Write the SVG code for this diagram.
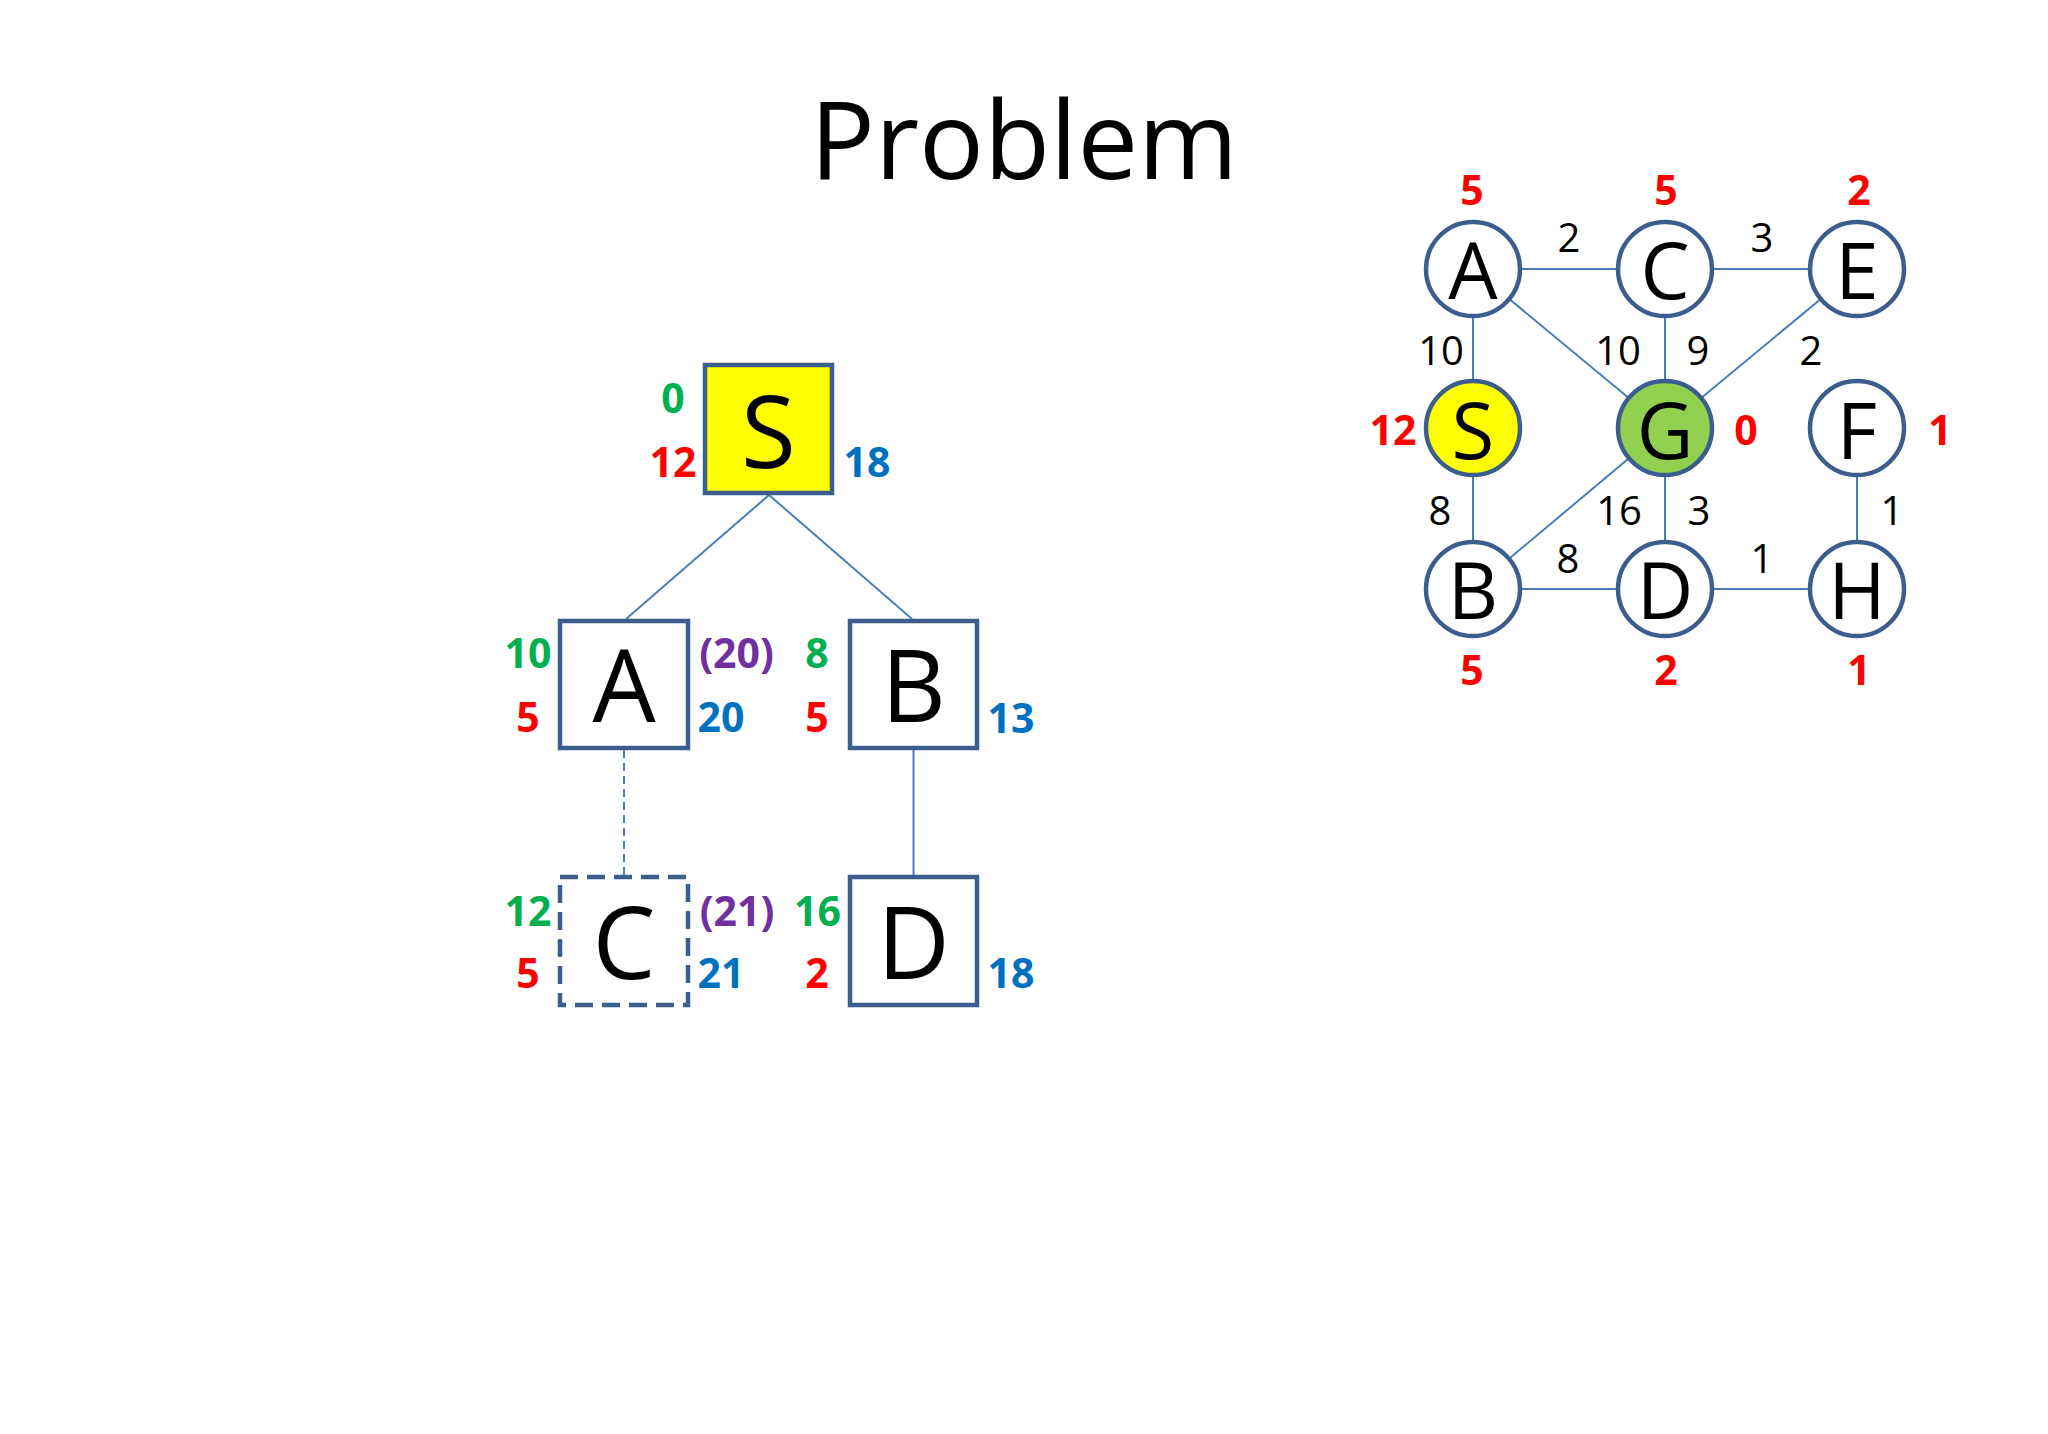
<svg xmlns="http://www.w3.org/2000/svg" width="2048" height="1434" viewBox="0 0 2048 1434">
<style>
.t{font-family:"Open Sans","Liberation Sans",sans-serif;text-anchor:middle}
.title{font-size:108px;fill:#000}
.big{font-size:100px;fill:#000}
.gl{font-size:78px;fill:#000}
.lab{font-size:41px;font-weight:bold}
.w{font-size:40px;fill:#000}
.g{fill:#00B050}.r{fill:#FF0000}.b{fill:#0070C0}.p{fill:#7030A0}
.box{stroke:#3B5E8C;stroke-width:4.5}
.node{stroke:#3B5E8C;stroke-width:4.5;fill:#fff}
.edge{stroke:#4A7EBB;stroke-width:2;fill:none}
</style>
<rect width="2048" height="1434" fill="#fff"/>
<text class="t title" x="1024" y="179">Problem</text>
<g id="tree-connectors">
<line class="edge" x1="769" y1="495" x2="626" y2="619"/>
<line class="edge" x1="769" y1="495" x2="912" y2="619"/>
<line class="edge" x1="624" y1="750" x2="624" y2="877" stroke-dasharray="8 5"/>
<line class="edge" x1="913.5" y1="750" x2="913.5" y2="877"/>
</g>
<g id="tree-S">
<rect class="box" x="705" y="365" width="127" height="128" fill="#FFFF00"/>
<text class="t big" x="768.5" y="468">S</text>
<text class="t lab g" x="673" y="413">0</text>
<text class="t lab r" x="673" y="477">12</text>
<text class="t lab b" x="867" y="477">18</text>
</g>
<g id="tree-A">
<rect class="box" x="560" y="621" width="128" height="127" fill="#fff"/>
<text class="t big" x="624" y="722">A</text>
<text class="t lab g" x="528" y="668">10</text>
<text class="t lab r" x="528" y="732">5</text>
<text class="t lab p" x="736.5" y="668">(20)</text>
<text class="t lab b" x="721" y="732">20</text>
</g>
<g id="tree-B">
<rect class="box" x="850" y="621" width="127" height="127" fill="#fff"/>
<text class="t big" x="913.5" y="722">B</text>
<text class="t lab g" x="817" y="668">8</text>
<text class="t lab r" x="817" y="732">5</text>
<text class="t lab b" x="1011" y="733">13</text>
</g>
<g id="tree-C">
<rect class="box" x="560" y="877" width="128" height="128" fill="#fff" stroke-dasharray="18 9"/>
<text class="t big" x="624" y="979">C</text>
<text class="t lab g" x="528" y="926">12</text>
<text class="t lab r" x="528" y="988">5</text>
<text class="t lab p" x="737" y="926">(21)</text>
<text class="t lab b" x="721" y="988">21</text>
</g>
<g id="tree-D">
<rect class="box" x="850" y="877" width="127" height="128" fill="#fff"/>
<text class="t big" x="913.5" y="979">D</text>
<text class="t lab g" x="817.5" y="926">16</text>
<text class="t lab r" x="817" y="988">2</text>
<text class="t lab b" x="1011" y="988">18</text>
</g>
<g id="graph-connectors">
<line class="edge" x1="1473" y1="269" x2="1665" y2="269"/>
<line class="edge" x1="1665" y1="269" x2="1857" y2="269"/>
<line class="edge" x1="1473" y1="269" x2="1473" y2="428"/>
<line class="edge" x1="1473" y1="428" x2="1473" y2="589"/>
<line class="edge" x1="1665" y1="269" x2="1665" y2="428"/>
<line class="edge" x1="1665" y1="428" x2="1665" y2="589"/>
<line class="edge" x1="1857" y1="428" x2="1857" y2="589"/>
<line class="edge" x1="1473" y1="589" x2="1665" y2="589"/>
<line class="edge" x1="1665" y1="589" x2="1857" y2="589"/>
<line class="edge" x1="1473" y1="269" x2="1665" y2="428"/>
<line class="edge" x1="1857" y1="269" x2="1665" y2="428"/>
<line class="edge" x1="1665" y1="428" x2="1473" y2="589"/>
<text class="t w" x="1569" y="252">2</text>
<text class="t w" x="1762" y="252">3</text>
<text class="t w" x="1441" y="365">10</text>
<text class="t w" x="1618" y="365">10</text>
<text class="t w" x="1698" y="365">9</text>
<text class="t w" x="1811" y="365">2</text>
<text class="t w" x="1440" y="525">8</text>
<text class="t w" x="1619" y="525">16</text>
<text class="t w" x="1699" y="525">3</text>
<text class="t w" x="1892" y="525">1</text>
<text class="t w" x="1568" y="573">8</text>
<text class="t w" x="1762" y="573">1</text>
</g>
<g id="g-A"><circle class="node" cx="1473" cy="269" r="47"/><text class="t gl" x="1473" y="299">A</text><text class="t lab r" x="1472" y="205">5</text></g>
<g id="g-C"><circle class="node" cx="1665" cy="269" r="47"/><text class="t gl" x="1665" y="299">C</text><text class="t lab r" x="1666" y="205">5</text></g>
<g id="g-E"><circle class="node" cx="1857" cy="269" r="47"/><text class="t gl" x="1857" y="299">E</text><text class="t lab r" x="1859" y="205">2</text></g>
<g id="g-S"><circle class="node" cx="1473" cy="428" r="47" style="fill:#FFFF00"/><text class="t gl" x="1473" y="459">S</text><text class="t lab r" x="1393" y="445">12</text></g>
<g id="g-G"><circle class="node" cx="1665" cy="428" r="47" style="fill:#92D050"/><text class="t gl" x="1665" y="459">G</text><text class="t lab r" x="1746" y="445">0</text></g>
<g id="g-F"><circle class="node" cx="1857" cy="428" r="47"/><text class="t gl" x="1857" y="459">F</text><text class="t lab r" x="1940" y="445">1</text></g>
<g id="g-B"><circle class="node" cx="1473" cy="589" r="47"/><text class="t gl" x="1473" y="619">B</text><text class="t lab r" x="1472" y="685">5</text></g>
<g id="g-D"><circle class="node" cx="1665" cy="589" r="47"/><text class="t gl" x="1665" y="619">D</text><text class="t lab r" x="1666" y="685">2</text></g>
<g id="g-H"><circle class="node" cx="1857" cy="589" r="47"/><text class="t gl" x="1857" y="619">H</text><text class="t lab r" x="1859" y="685">1</text></g>
</svg>
